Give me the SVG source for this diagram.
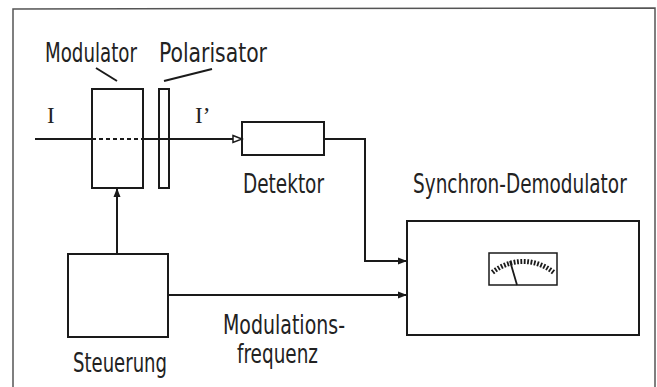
<svg xmlns="http://www.w3.org/2000/svg" width="657" height="387" viewBox="0 0 657 387">
<style>
.box{fill:none;stroke:#1a1a1a;stroke-width:2}
.ln{fill:none;stroke:#1a1a1a;stroke-width:2}
.t{font-family:"DejaVu Sans Condensed","DejaVu Sans","Liberation Sans",sans-serif;font-size:26px;fill:#222}
.s{font-family:"Liberation Serif",serif;font-size:23px;fill:#222}
</style>
<defs>
<marker id="af" markerWidth="10" markerHeight="8" refX="9" refY="4" orient="auto" markerUnits="userSpaceOnUse">
<path d="M0,0.5 L9,4 L0,7.5 Z" fill="#1a1a1a"/>
</marker>
<marker id="ao" markerWidth="12" markerHeight="10" refX="10" refY="5" orient="auto" markerUnits="userSpaceOnUse">
<path d="M1,1.5 L10,5 L1,8.5 Z" fill="#fff" stroke="#1a1a1a" stroke-width="1.5"/>
</marker>
</defs>
<rect width="657" height="387" fill="#fff"/>
<path d="M13,387 L13,9 L655,8 L655,387" fill="none" stroke="#555" stroke-width="1.5"/>

<g id="modulator">
<rect class="box" x="92" y="89" width="51" height="99"/>
<text class="t" x="45" y="62" textLength="92" lengthAdjust="spacingAndGlyphs">Modulator</text>
<line class="ln" x1="96" y1="68" x2="117" y2="81" stroke-width="1.5"/>
</g>
<g id="polarisator">
<rect class="box" x="159" y="89" width="10" height="99"/>
<text class="t" x="159" y="62" textLength="108" lengthAdjust="spacingAndGlyphs">Polarisator</text>
<line class="ln" x1="212" y1="69" x2="164" y2="81" stroke-width="1.5"/>
</g>
<g id="detektor">
<rect class="box" x="242" y="122" width="82" height="33"/>
<text class="t" x="243" y="193" textLength="81" lengthAdjust="spacingAndGlyphs">Detektor</text>
</g>
<g id="steuerung">
<rect class="box" x="68" y="254" width="100" height="83"/>
<text class="t" x="73" y="372" textLength="94" lengthAdjust="spacingAndGlyphs">Steuerung</text>
</g>
<g id="synchron-demodulator">
<rect class="box" x="407" y="221" width="232" height="114"/>
<text class="t" transform="translate(413 193) scale(0.78 1)" x="0" y="0" textLength="274" lengthAdjust="spacingAndGlyphs">Synchron-Demodulator</text>
<rect x="489" y="253" width="68" height="32" fill="none" stroke="#1a1a1a" stroke-width="1.5"/>
<g id="ticks" stroke="#1a1a1a" stroke-width="1.8" transform="translate(523 310)">
<line x1="0" y1="-46" x2="0" y2="-51" transform="rotate(-38)"/>
<line x1="0" y1="-46" x2="0" y2="-51" transform="rotate(-34)"/>
<line x1="0" y1="-46" x2="0" y2="-51" transform="rotate(-30)"/>
<line x1="0" y1="-46" x2="0" y2="-51" transform="rotate(-26)"/>
<line x1="0" y1="-46" x2="0" y2="-51" transform="rotate(-22)"/>
<line x1="0" y1="-46" x2="0" y2="-51" transform="rotate(-18)"/>
<line x1="0" y1="-46" x2="0" y2="-51" transform="rotate(-14)"/>
<line x1="0" y1="-46" x2="0" y2="-51" transform="rotate(-10)"/>
<line x1="0" y1="-46" x2="0" y2="-51" transform="rotate(-6)"/>
<line x1="0" y1="-46" x2="0" y2="-51" transform="rotate(-2)"/>
<line x1="0" y1="-46" x2="0" y2="-51" transform="rotate(2)"/>
<line x1="0" y1="-46" x2="0" y2="-51" transform="rotate(6)"/>
<line x1="0" y1="-46" x2="0" y2="-51" transform="rotate(10)"/>
<line x1="0" y1="-46" x2="0" y2="-51" transform="rotate(14)"/>
<line x1="0" y1="-46" x2="0" y2="-51" transform="rotate(18)"/>
<line x1="0" y1="-46" x2="0" y2="-51" transform="rotate(22)"/>
<line x1="0" y1="-46" x2="0" y2="-51" transform="rotate(26)"/>
<line x1="0" y1="-46" x2="0" y2="-51" transform="rotate(30)"/>
<line x1="0" y1="-46" x2="0" y2="-51" transform="rotate(34)"/>
<line x1="0" y1="-46" x2="0" y2="-51" transform="rotate(38)"/>
</g>
<line x1="517" y1="285" x2="510" y2="261" stroke="#1a1a1a" stroke-width="1.8"/>
</g>

<g id="labels">
<text class="s" x="47" y="123">I</text>
<text class="s" x="195" y="123">I’</text>
<text class="t" x="223" y="334" textLength="122" lengthAdjust="spacingAndGlyphs">Modulations-</text>
<text class="t" x="237" y="363" textLength="81" lengthAdjust="spacingAndGlyphs">frequenz</text>
</g>

<g id="connectors">
<line class="ln" x1="35" y1="139" x2="92" y2="139"/>
<line class="ln" x1="92" y1="139" x2="143" y2="139" stroke-dasharray="4 3"/>
<line class="ln" x1="143" y1="139" x2="242" y2="139" marker-end="url(#ao)"/>
<polyline class="ln" points="324,139 365,139 365,261 407,261" marker-end="url(#af)"/>
<line class="ln" x1="168" y1="295" x2="407" y2="295" marker-end="url(#af)"/>
<line class="ln" x1="117" y1="254" x2="117" y2="188" marker-end="url(#af)"/>
</g>
</svg>
